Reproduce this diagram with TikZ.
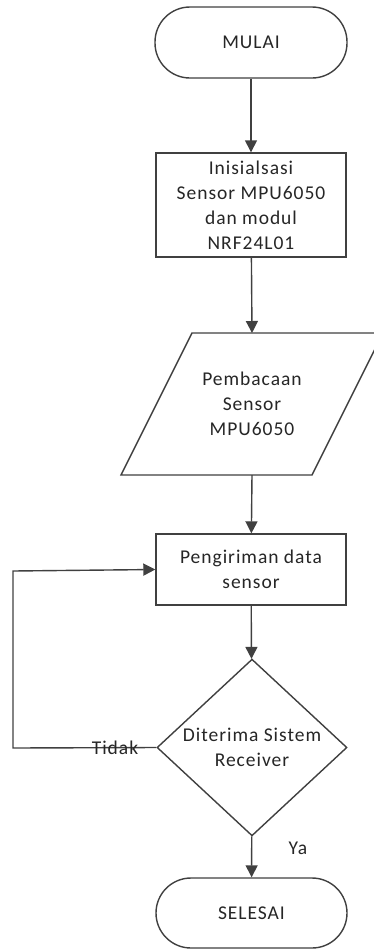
\documentclass[tikz,border=0pt]{standalone}
\usepackage{fontspec}
\setmainfont[LetterSpace=5]{Carlito}
\usetikzlibrary{shapes.geometric,arrows.meta}
\definecolor{edge}{HTML}{404040}
\definecolor{ink}{HTML}{262626}
\tikzset{
  every node/.style={font=\fontsize{19.5}{25}\selectfont, text=ink, align=center},
  terminal/.style={draw=edge, line width=1.4pt, rectangle, rounded corners=35pt, minimum width=191pt, minimum height=70pt, fill=white},
  procbox/.style={draw=edge, line width=1.4pt, rectangle, minimum width=190pt, fill=white},
  decision/.style={draw=edge, line width=1.4pt, diamond, minimum width=190pt, minimum height=141pt, inner sep=0pt, fill=white},
  flow/.style={draw=edge, line width=1.4pt, -{Triangle[width=12pt,length=12pt]}},
  label/.style={font=\fontsize{19.5}{22}\selectfont}
}
\begin{document}
\begin{tikzpicture}[x=1pt,y=-1pt]
\useasboundingbox (0,0) rectangle (373,951);
% start / end terminals
\node[terminal, minimum width=192pt, minimum height=71pt] (start) at (251,42.5) {MULAI};
\node[procbox, minimum height=104pt] (init) at (251,205) {Inisialsasi\\Sensor MPU6050\\dan modul\\NRF24L01};
% input/output parallelogram
\draw[draw=edge, line width=1.4pt, fill=white] (192,333) -- (383,333) -- (312,475) -- (121,475) -- cycle;
\node (read) at (252,404) {Pembacaan\\Sensor\\MPU6050};
\coordinate (readtop) at (252,333);
\coordinate (readbot) at (252,475);
\node[procbox, minimum height=71pt] (send) at (251,569.5) {Pengiriman data\\sensor};
\node[decision] (check) at (252,747.5) {Diterima Sistem\\Receiver};
\node[terminal] (stop) at (251.5,913) {SELESAI};
% connectors
\draw[flow] (start) -- (init);
\draw[flow] (init) -- (readtop);
\draw[flow] (readbot) -- (send);
\draw[flow] (send) -- (check);
\draw[flow] (check) -- (stop);
\coordinate (loopbot) at (13,748);
\coordinate (looptop) at (13,571);
\draw[flow] (check.west) -- (loopbot) -- (looptop) -- (send.west);
\node[label] at (115,748) {Tidak};
\node[label] at (298,848) {Ya};
\end{tikzpicture}
\end{document}
